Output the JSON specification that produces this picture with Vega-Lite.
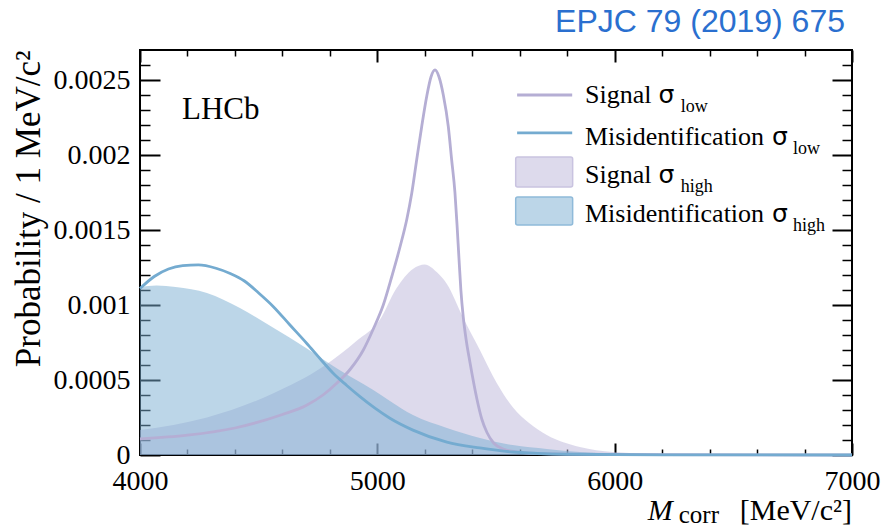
{
  "$schema": "https://vega.github.io/schema/vega-lite/v6.json",
  "width": 712,
  "height": 405,
  "autosize": "none",
  "padding": {"left": 140, "top": 50, "right": 30, "bottom": 73},
  "background": "white",
  "title": {"text": "EPJC 79 (2019) 675", "anchor": "end", "frame": "group", "font": "Liberation Sans", "fontSize": 32, "fontWeight": "normal", "color": "#2a6fcf", "offset": 10, "dx": -7},
  "config": {
    "view": {"stroke": "black", "strokeWidth": 2},
    "axis": {"domain": false, "grid": false, "tickColor": "black", "labelColor": "black", "titleColor": "black", "labelFont": "Liberation Serif", "titleFont": "Liberation Serif", "titleFontWeight": "normal"}
  },
  "datasets": {
    "curves": [
      {"series": "SL", "x": 4000, "y": 0.000107},
      {"series": "SL", "x": 4200, "y": 0.000132},
      {"series": "SL", "x": 4400, "y": 0.00018},
      {"series": "SL", "x": 4600, "y": 0.00027},
      {"series": "SL", "x": 4700, "y": 0.00033},
      {"series": "SL", "x": 4771, "y": 0.0004},
      {"series": "SL", "x": 4830, "y": 0.00048},
      {"series": "SL", "x": 4885, "y": 0.00057},
      {"series": "SL", "x": 4941, "y": 0.0007},
      {"series": "SL", "x": 4983, "y": 0.00084},
      {"series": "SL", "x": 5025, "y": 0.001},
      {"series": "SL", "x": 5061, "y": 0.00119},
      {"series": "SL", "x": 5096, "y": 0.00139},
      {"series": "SL", "x": 5124, "y": 0.00157},
      {"series": "SL", "x": 5145, "y": 0.001745},
      {"series": "SL", "x": 5166, "y": 0.00197},
      {"series": "SL", "x": 5187, "y": 0.00219},
      {"series": "SL", "x": 5208, "y": 0.00239},
      {"series": "SL", "x": 5226, "y": 0.00252},
      {"series": "SL", "x": 5243, "y": 0.002567},
      {"series": "SL", "x": 5260, "y": 0.00252},
      {"series": "SL", "x": 5278, "y": 0.0024},
      {"series": "SL", "x": 5299, "y": 0.00219},
      {"series": "SL", "x": 5313, "y": 0.00197},
      {"series": "SL", "x": 5327, "y": 0.00175},
      {"series": "SL", "x": 5336, "y": 0.00153},
      {"series": "SL", "x": 5344, "y": 0.00131},
      {"series": "SL", "x": 5352, "y": 0.0011},
      {"series": "SL", "x": 5362, "y": 0.00092},
      {"series": "SL", "x": 5375, "y": 0.00076},
      {"series": "SL", "x": 5390, "y": 0.00062},
      {"series": "SL", "x": 5420, "y": 0.00037},
      {"series": "SL", "x": 5440, "y": 0.00024},
      {"series": "SL", "x": 5462, "y": 0.00015},
      {"series": "SL", "x": 5490, "y": 0.00008},
      {"series": "SL", "x": 5530, "y": 0.00004},
      {"series": "SL", "x": 5600, "y": 0.000018},
      {"series": "SL", "x": 5800, "y": 0.000006},
      {"series": "SL", "x": 6200, "y": 0.000002},
      {"series": "SL", "x": 7000, "y": 0},
      {"series": "ML", "x": 4000, "y": 0.00111},
      {"series": "ML", "x": 4060, "y": 0.00119},
      {"series": "ML", "x": 4120, "y": 0.00124},
      {"series": "ML", "x": 4180, "y": 0.001262},
      {"series": "ML", "x": 4246, "y": 0.001267},
      {"series": "ML", "x": 4320, "y": 0.001245},
      {"series": "ML", "x": 4380, "y": 0.00121},
      {"series": "ML", "x": 4440, "y": 0.00116},
      {"series": "ML", "x": 4500, "y": 0.00108},
      {"series": "ML", "x": 4562, "y": 0.000989},
      {"series": "ML", "x": 4630, "y": 0.00087},
      {"series": "ML", "x": 4702, "y": 0.000745},
      {"series": "ML", "x": 4760, "y": 0.00064},
      {"series": "ML", "x": 4814, "y": 0.000545},
      {"series": "ML", "x": 4870, "y": 0.000465},
      {"series": "ML", "x": 4927, "y": 0.000389},
      {"series": "ML", "x": 4990, "y": 0.000312},
      {"series": "ML", "x": 5053, "y": 0.000245},
      {"series": "ML", "x": 5150, "y": 0.000166},
      {"series": "ML", "x": 5293, "y": 0.000086},
      {"series": "ML", "x": 5432, "y": 0.000047},
      {"series": "ML", "x": 5570, "y": 0.00002},
      {"series": "ML", "x": 5800, "y": 0.000005},
      {"series": "ML", "x": 6200, "y": 0.000001},
      {"series": "ML", "x": 7000, "y": 0},
      {"series": "MH", "x": 4000, "y": 0.00112},
      {"series": "MH", "x": 4070, "y": 0.00113},
      {"series": "MH", "x": 4150, "y": 0.00112},
      {"series": "MH", "x": 4282, "y": 0.00108},
      {"series": "MH", "x": 4421, "y": 0.00098},
      {"series": "MH", "x": 4560, "y": 0.00085},
      {"series": "MH", "x": 4703, "y": 0.00071},
      {"series": "MH", "x": 4842, "y": 0.000565},
      {"series": "MH", "x": 4981, "y": 0.000435},
      {"series": "MH", "x": 5053, "y": 0.00036},
      {"series": "MH", "x": 5150, "y": 0.000266},
      {"series": "MH", "x": 5293, "y": 0.00018},
      {"series": "MH", "x": 5432, "y": 0.000113},
      {"series": "MH", "x": 5570, "y": 0.000066},
      {"series": "MH", "x": 5714, "y": 0.00004},
      {"series": "MH", "x": 5853, "y": 0.00002},
      {"series": "MH", "x": 6000, "y": 0.00001},
      {"series": "MH", "x": 6300, "y": 0.000003},
      {"series": "MH", "x": 7000, "y": 0},
      {"series": "SH", "x": 4000, "y": 0.000166},
      {"series": "SH", "x": 4282, "y": 0.00025},
      {"series": "SH", "x": 4560, "y": 0.00041},
      {"series": "SH", "x": 4772, "y": 0.00059},
      {"series": "SH", "x": 4912, "y": 0.00076},
      {"series": "SH", "x": 5010, "y": 0.0009},
      {"series": "SH", "x": 5080, "y": 0.00111},
      {"series": "SH", "x": 5150, "y": 0.00124},
      {"series": "SH", "x": 5200, "y": 0.00127},
      {"series": "SH", "x": 5250, "y": 0.00122},
      {"series": "SH", "x": 5293, "y": 0.00114},
      {"series": "SH", "x": 5360, "y": 0.00092},
      {"series": "SH", "x": 5432, "y": 0.0007},
      {"series": "SH", "x": 5503, "y": 0.00048},
      {"series": "SH", "x": 5570, "y": 0.00032},
      {"series": "SH", "x": 5642, "y": 0.00021},
      {"series": "SH", "x": 5714, "y": 0.000133},
      {"series": "SH", "x": 5853, "y": 0.000053},
      {"series": "SH", "x": 5992, "y": 0.00002},
      {"series": "SH", "x": 6200, "y": 0.000006},
      {"series": "SH", "x": 6500, "y": 0.000001},
      {"series": "SH", "x": 7000, "y": 0}
    ]
  },
  "resolve": {"axis": {"x": "independent", "y": "independent"}},
  "layer": [
    {
      "data": {"name": "curves"},
      "transform": [{"filter": "datum.series == 'SH'"}],
      "mark": {"type": "area", "color": "#bcb5da", "opacity": 0.5, "interpolate": "monotone"},
      "encoding": {
        "x": {"field": "x", "type": "quantitative", "scale": {"domain": [4000, 7000], "nice": false, "zero": false},
          "axis": {"orient": "bottom", "values": [4000, 5000, 6000, 7000], "tickSize": -12, "tickWidth": 2, "labelFontSize": 28, "labelPadding": 24, "labelExpr": "'' + datum.value", "labelFlush": false, "title": null}},
        "y": {"field": "y", "type": "quantitative", "scale": {"domain": [0, 0.0027], "nice": false, "zero": true},
          "axis": {"orient": "left", "values": [0, 0.0005, 0.001, 0.0015, 0.002, 0.0025], "tickSize": -20, "tickWidth": 2, "labelFontSize": 28, "labelPadding": 30, "labelExpr": "'' + datum.value", "labelFlush": false,
            "title": "Probability  /  1  MeV/c²", "titleFontSize": 35, "titleAnchor": "end", "titlePadding": 7}}
      }
    },
    {
      "data": {"name": "curves"},
      "transform": [{"filter": "datum.series == 'MH'"}],
      "mark": {"type": "area", "color": "#7aaed2", "opacity": 0.5, "interpolate": "monotone"},
      "encoding": {
        "x": {"field": "x", "type": "quantitative", "scale": {"domain": [4000, 7000], "nice": false, "zero": false},
          "axis": {"orient": "bottom", "values": [4200, 4400, 4600, 4800, 5200, 5400, 5600, 5800, 6200, 6400, 6600, 6800], "tickSize": -6, "tickWidth": 1.5, "labels": false, "title": null}},
        "y": {"field": "y", "type": "quantitative", "scale": {"domain": [0, 0.0027], "nice": false, "zero": true},
          "axis": {"orient": "left", "values": [0.0001, 0.0002, 0.0003, 0.0004, 0.0006, 0.0007, 0.0008, 0.0009, 0.0011, 0.0012, 0.0013, 0.0014, 0.0016, 0.0017, 0.0018, 0.0019, 0.0021, 0.0022, 0.0023, 0.0024, 0.0026], "tickSize": -10, "tickWidth": 1.5, "labels": false, "title": null}}
      }
    },
    {
      "data": {"name": "curves"},
      "transform": [{"filter": "datum.series == 'SL'"}],
      "mark": {"type": "line", "color": "#b5aed4", "strokeWidth": 2.8, "interpolate": "monotone"},
      "encoding": {
        "x": {"field": "x", "type": "quantitative", "scale": {"domain": [4000, 7000], "nice": false, "zero": false},
          "axis": {"orient": "top", "values": [4000, 5000, 6000, 7000], "tickSize": -12, "tickWidth": 2, "labels": false, "title": null}},
        "y": {"field": "y", "type": "quantitative", "scale": {"domain": [0, 0.0027], "nice": false, "zero": true},
          "axis": {"orient": "right", "values": [0, 0.0005, 0.001, 0.0015, 0.002, 0.0025], "tickSize": -20, "tickWidth": 2, "labels": false, "title": null}}
      }
    },
    {
      "data": {"name": "curves"},
      "transform": [{"filter": "datum.series == 'ML'"}],
      "mark": {"type": "line", "color": "#74abd0", "strokeWidth": 2.8, "interpolate": "monotone"},
      "encoding": {
        "x": {"field": "x", "type": "quantitative", "scale": {"domain": [4000, 7000], "nice": false, "zero": false},
          "axis": {"orient": "top", "values": [4200, 4400, 4600, 4800, 5200, 5400, 5600, 5800, 6200, 6400, 6600, 6800], "tickSize": -6, "tickWidth": 1.5, "labels": false, "title": null}},
        "y": {"field": "y", "type": "quantitative", "scale": {"domain": [0, 0.0027], "nice": false, "zero": true},
          "axis": {"orient": "right", "values": [0.0001, 0.0002, 0.0003, 0.0004, 0.0006, 0.0007, 0.0008, 0.0009, 0.0011, 0.0012, 0.0013, 0.0014, 0.0016, 0.0017, 0.0018, 0.0019, 0.0021, 0.0022, 0.0023, 0.0024, 0.0026], "tickSize": -10, "tickWidth": 1.5, "labels": false, "title": null}}
      }
    },
    {
      "data": {"values": [{}]},
      "mark": {"type": "rule", "color": "#b5aed4", "strokeWidth": 2.8},
      "encoding": {"x": {"datum": 5589, "type": "quantitative", "axis": null}, "x2": {"datum": 5821}, "y": {"datum": 0.0024, "type": "quantitative", "axis": null}}
    },
    {
      "data": {"values": [{}]},
      "mark": {"type": "rule", "color": "#74abd0", "strokeWidth": 2.8},
      "encoding": {"x": {"datum": 5589, "type": "quantitative", "axis": null}, "x2": {"datum": 5821}, "y": {"datum": 0.002147, "type": "quantitative", "axis": null}}
    },
    {
      "data": {"values": [{}]},
      "mark": {"type": "rect", "fill": "#bcb5da", "fillOpacity": 0.5, "stroke": "#c9c3e0", "strokeWidth": 1.5, "cornerRadius": 2},
      "encoding": {"x": {"datum": 5583, "type": "quantitative", "axis": null}, "x2": {"datum": 5823}, "y": {"datum": 0.001987, "type": "quantitative", "axis": null}, "y2": {"datum": 0.001787}}
    },
    {
      "data": {"values": [{}]},
      "mark": {"type": "rect", "fill": "#7aaed2", "fillOpacity": 0.5, "stroke": "#8fbad9", "strokeWidth": 1.5, "cornerRadius": 2},
      "encoding": {"x": {"datum": 5583, "type": "quantitative", "axis": null}, "x2": {"datum": 5823}, "y": {"datum": 0.00172, "type": "quantitative", "axis": null}, "y2": {"datum": 0.001533}}
    },
    {
      "data": {"values": [{}]},
      "mark": {"type": "text", "font": "Liberation Serif", "fontSize": 26, "align": "left", "baseline": "alphabetic", "color": "black"},
      "encoding": {"x": {"datum": 5875, "type": "quantitative", "axis": null}, "y": {"datum": 0.002347, "type": "quantitative", "axis": null}, "text": {"value": "Signal"}}
    },
    {
      "data": {"values": [{}]},
      "mark": {"type": "text", "font": "DejaVu Sans", "fontSize": 25, "align": "left", "baseline": "alphabetic", "color": "black"},
      "encoding": {"x": {"datum": 6185, "type": "quantitative", "axis": null}, "y": {"datum": 0.002347, "type": "quantitative", "axis": null}, "text": {"value": "σ"}}
    },
    {
      "data": {"values": [{}]},
      "mark": {"type": "text", "font": "Liberation Serif", "fontSize": 18, "align": "left", "baseline": "alphabetic", "color": "black"},
      "encoding": {"x": {"datum": 6278, "type": "quantitative", "axis": null}, "y": {"datum": 0.002287, "type": "quantitative", "axis": null}, "text": {"value": "low"}}
    },
    {
      "data": {"values": [{}]},
      "mark": {"type": "text", "font": "Liberation Serif", "fontSize": 26, "align": "left", "baseline": "alphabetic", "color": "black"},
      "encoding": {"x": {"datum": 5875, "type": "quantitative", "axis": null}, "y": {"datum": 0.002067, "type": "quantitative", "axis": null}, "text": {"value": "Misidentification"}}
    },
    {
      "data": {"values": [{}]},
      "mark": {"type": "text", "font": "DejaVu Sans", "fontSize": 25, "align": "left", "baseline": "alphabetic", "color": "black"},
      "encoding": {"x": {"datum": 6663, "type": "quantitative", "axis": null}, "y": {"datum": 0.002067, "type": "quantitative", "axis": null}, "text": {"value": "σ"}}
    },
    {
      "data": {"values": [{}]},
      "mark": {"type": "text", "font": "Liberation Serif", "fontSize": 18, "align": "left", "baseline": "alphabetic", "color": "black"},
      "encoding": {"x": {"datum": 6751, "type": "quantitative", "axis": null}, "y": {"datum": 0.002007, "type": "quantitative", "axis": null}, "text": {"value": "low"}}
    },
    {
      "data": {"values": [{}]},
      "mark": {"type": "text", "font": "Liberation Serif", "fontSize": 26, "align": "left", "baseline": "alphabetic", "color": "black"},
      "encoding": {"x": {"datum": 5875, "type": "quantitative", "axis": null}, "y": {"datum": 0.001813, "type": "quantitative", "axis": null}, "text": {"value": "Signal"}}
    },
    {
      "data": {"values": [{}]},
      "mark": {"type": "text", "font": "DejaVu Sans", "fontSize": 25, "align": "left", "baseline": "alphabetic", "color": "black"},
      "encoding": {"x": {"datum": 6185, "type": "quantitative", "axis": null}, "y": {"datum": 0.001813, "type": "quantitative", "axis": null}, "text": {"value": "σ"}}
    },
    {
      "data": {"values": [{}]},
      "mark": {"type": "text", "font": "Liberation Serif", "fontSize": 18, "align": "left", "baseline": "alphabetic", "color": "black"},
      "encoding": {"x": {"datum": 6278, "type": "quantitative", "axis": null}, "y": {"datum": 0.001753, "type": "quantitative", "axis": null}, "text": {"value": "high"}}
    },
    {
      "data": {"values": [{}]},
      "mark": {"type": "text", "font": "Liberation Serif", "fontSize": 26, "align": "left", "baseline": "alphabetic", "color": "black"},
      "encoding": {"x": {"datum": 5875, "type": "quantitative", "axis": null}, "y": {"datum": 0.001553, "type": "quantitative", "axis": null}, "text": {"value": "Misidentification"}}
    },
    {
      "data": {"values": [{}]},
      "mark": {"type": "text", "font": "DejaVu Sans", "fontSize": 25, "align": "left", "baseline": "alphabetic", "color": "black"},
      "encoding": {"x": {"datum": 6663, "type": "quantitative", "axis": null}, "y": {"datum": 0.001553, "type": "quantitative", "axis": null}, "text": {"value": "σ"}}
    },
    {
      "data": {"values": [{}]},
      "mark": {"type": "text", "font": "Liberation Serif", "fontSize": 18, "align": "left", "baseline": "alphabetic", "color": "black"},
      "encoding": {"x": {"datum": 6751, "type": "quantitative", "axis": null}, "y": {"datum": 0.001493, "type": "quantitative", "axis": null}, "text": {"value": "high"}}
    },
    {
      "data": {"values": [{}]},
      "mark": {"type": "text", "font": "Liberation Serif", "fontSize": 31, "align": "left", "baseline": "alphabetic", "color": "black"},
      "encoding": {"x": {"datum": 4177, "type": "quantitative", "axis": null}, "y": {"datum": 0.00224, "type": "quantitative", "axis": null}, "text": {"value": "LHCb"}}
    },
    {
      "data": {"values": [{}]},
      "mark": {"type": "text", "font": "Liberation Serif", "fontSize": 30, "fontStyle": "italic", "align": "left", "baseline": "alphabetic", "color": "black"},
      "encoding": {"x": {"datum": 6139, "type": "quantitative", "axis": null}, "y": {"datum": -0.000432, "type": "quantitative", "axis": null}, "text": {"value": "M"}}
    },
    {
      "data": {"values": [{}]},
      "mark": {"type": "text", "font": "Liberation Serif", "fontSize": 25, "align": "left", "baseline": "alphabetic", "color": "black"},
      "encoding": {"x": {"datum": 6270, "type": "quantitative", "axis": null}, "y": {"datum": -0.000453, "type": "quantitative", "axis": null}, "text": {"value": "corr"}}
    },
    {
      "data": {"values": [{}]},
      "mark": {"type": "text", "font": "Liberation Serif", "fontSize": 30, "align": "right", "baseline": "alphabetic", "color": "black"},
      "encoding": {"x": {"datum": 7000, "type": "quantitative", "axis": null}, "y": {"datum": -0.000432, "type": "quantitative", "axis": null}, "text": {"value": "[MeV/c²]"}}
    }
  ]
}
